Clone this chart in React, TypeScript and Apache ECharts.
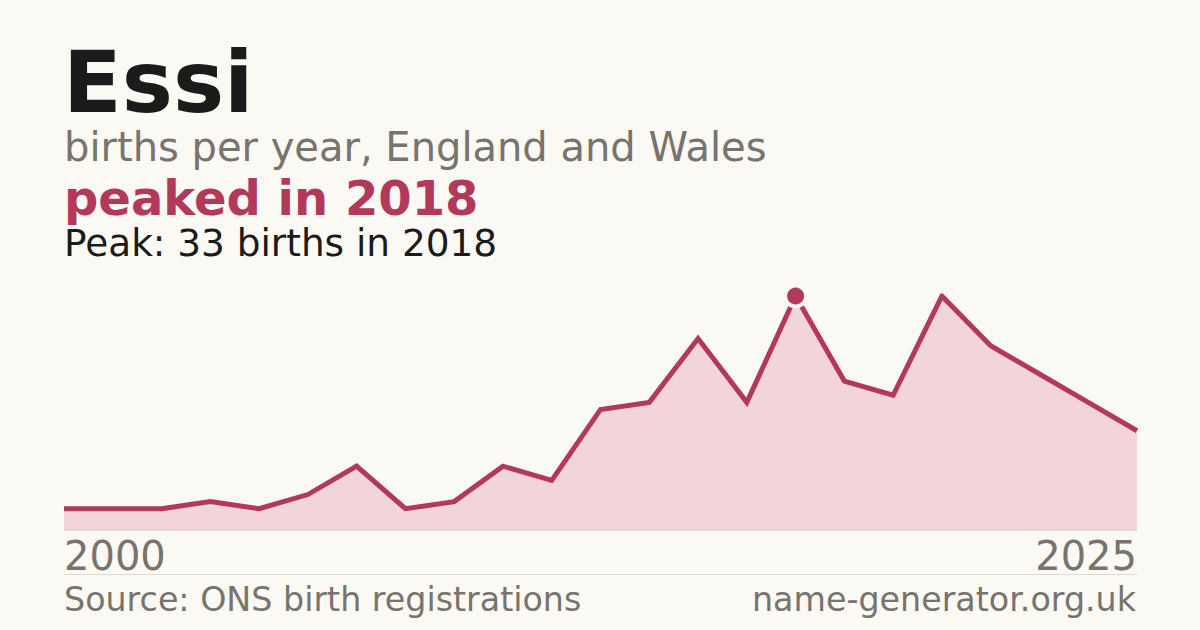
import React, { useEffect, useRef } from 'react';
import * as echarts from 'echarts';

// Yearly counts (years with too few registrations are not published)
const years = [
  '2000', '2001', '2002', '2004', '2005', '2006', '2008', '2009', '2010', '2011', '2012', '2013',
  '2014', '2015', '2017', '2018', '2019', '2020', '2021', '2022', '2023', '2024', '2025'
];
const births = [3, 3, 3, 4, 3, 5, 9, 3, 4, 9, 7, 17, 18, 27, 18, 33, 21, 19, 33, 26, 22, 18, 14];

const nameTitle = 'Essi';
const subtitle = 'births per year, England and Wales';
const sourceText = 'Source: ONS birth registrations';
const siteText = 'name-generator.org.uk';

const FONT = '"DejaVu Sans", Verdana, sans-serif';
const BG = '#faf9f4';
const CRIMSON = '#b3395a';
const GREY = '#78736c';

const App: React.FC = () => {
  const chartRef = useRef<HTMLDivElement>(null);

  useEffect(() => {
    if (!chartRef.current) return;
    const chart = echarts.init(chartRef.current, null, { renderer: 'svg' });

    // first year with the highest count
    const peakValue = Math.max(...births);
    const peakIndex = births.indexOf(peakValue);
    const peakYear = years[peakIndex];
    const last = years.length - 1;

    const option: echarts.EChartsOption = {
      animation: false,
      backgroundColor: BG,
      grid: { left: 64, right: 63, top: 296, bottom: 100 },
      xAxis: {
        type: 'category',
        data: years,
        boundaryGap: false,
        axisLine: { show: true, lineStyle: { color: '#dedad3', width: 1 } },
        axisTick: { show: false },
        splitLine: { show: false },
        axisLabel: {
          interval: (i: number) => i === 0 || i === last,
          margin: 6,
          fontFamily: FONT,
          fontSize: 40,
          lineHeight: 40,
          color: GREY,
          alignMinLabel: 'left',
          alignMaxLabel: 'right'
        } as any
      },
      yAxis: {
        type: 'value',
        min: 0,
        max: peakValue,
        show: false,
        splitLine: { show: false }
      },
      series: [
        {
          type: 'line',
          data: births,
          symbol: 'none',
          lineStyle: { color: CRIMSON, width: 5, join: 'miter' } as any,
          areaStyle: { color: '#f1d5db', opacity: 1 },
          markPoint: {
            symbol: 'circle',
            symbolSize: 21,
            itemStyle: { color: CRIMSON, borderColor: BG, borderWidth: 4 },
            label: { show: false },
            data: [{ coord: [peakYear, peakValue] }]
          }
        }
      ],
      graphic: [
        {
          type: 'text',
          x: 63,
          y: 82,
          style: { text: nameTitle, font: `bold 86px ${FONT}`, fill: '#1b1b1b', verticalAlign: 'middle', lineHeight: 70 }
        },
        {
          type: 'text',
          x: 64,
          y: 147,
          style: { text: subtitle, font: `40px ${FONT}`, fill: GREY, verticalAlign: 'middle', lineHeight: 34 }
        },
        {
          type: 'text',
          x: 64,
          y: 198,
          style: { text: `peaked in ${peakYear}`, font: `bold 48px ${FONT}`, fill: CRIMSON, verticalAlign: 'middle', lineHeight: 38 }
        },
        {
          type: 'text',
          x: 64,
          y: 243,
          style: { text: `Peak: ${peakValue} births in ${peakYear}`, font: `37.4px ${FONT}`, fill: '#1b1b1b', verticalAlign: 'middle', lineHeight: 30 }
        },
        {
          type: 'line',
          shape: { x1: 64, y1: 574.5, x2: 1137, y2: 574.5 },
          style: { stroke: '#dedad3', lineWidth: 1 }
        },
        {
          type: 'text',
          x: 64,
          y: 599,
          style: { text: sourceText, font: `33.3px ${FONT}`, fill: GREY, verticalAlign: 'middle' }
        },
        {
          type: 'text',
          x: 1136,
          y: 599,
          style: { text: siteText, font: `33.3px ${FONT}`, fill: GREY, align: 'right', verticalAlign: 'middle' }
        }
      ]
    };

    chart.setOption(option);
    return () => chart.dispose();
  }, []);

  return (
    <div
      ref={chartRef}
      style={{ position: 'fixed', left: 0, top: 0, width: '1200px', height: '630px' }}
    />
  );
};

export default App;
